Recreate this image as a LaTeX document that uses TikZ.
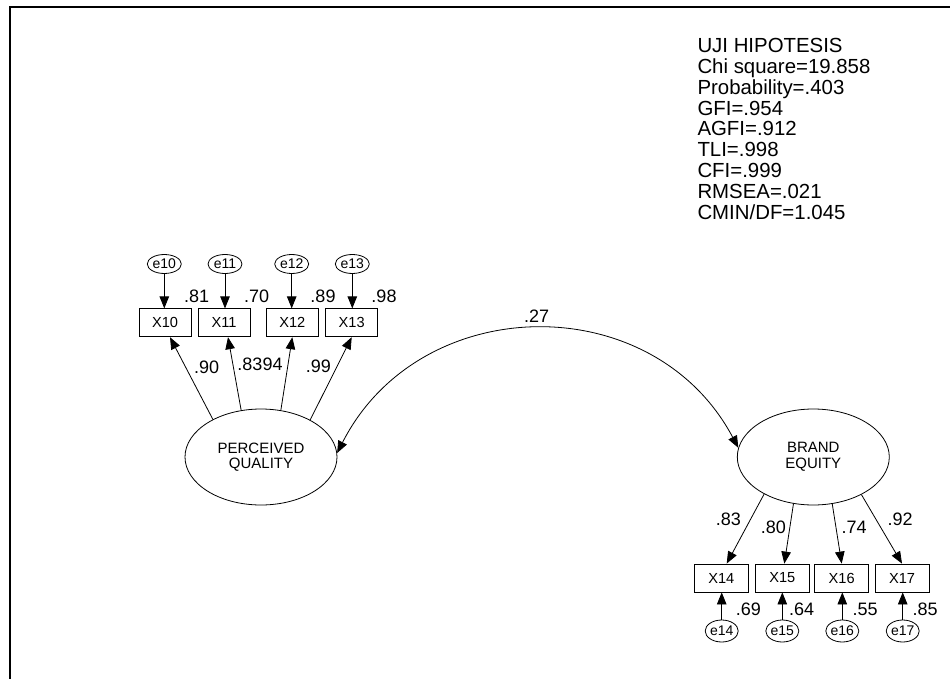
\documentclass[tikz,border=0pt]{standalone}
\usepackage{fontspec}
\setmainfont{Liberation Sans}
\usetikzlibrary{arrows.meta,shapes.geometric}
\begin{document}
\begin{tikzpicture}[x=1pt,y=-1pt,
  tip/.style={-{Triangle[length=12pt,width=9.5pt]}},
  link/.style={line width=0.8pt,tip},
  latent/.style={draw,ellipse,line width=0.8pt,minimum width=152pt,minimum height=96pt,inner sep=0pt,align=center,font=\fontsize{15}{15.5}\selectfont},
  err/.style={draw,ellipse,line width=0.8pt,minimum width=34pt,minimum height=19pt,inner sep=0pt,font=\fontsize{14}{14}\selectfont},
  errb/.style={err,minimum width=33pt,minimum height=22pt},
  obs/.style={draw,rectangle,line width=0.8pt,minimum width=52pt,minimum height=28pt,inner sep=0pt,font=\fontsize{14.6}{14.6}\selectfont},
  obsb/.style={obs,minimum width=54pt},
  num/.style={inner sep=0pt,font=\fontsize{18}{18}\selectfont},
  fitstat/.style={inner sep=0pt,align=left,anchor=north west,font=\fontsize{20.4}{20.8}\selectfont}
]
\useasboundingbox (0,0) rectangle (950,679);
% frame
\draw[line width=2pt] (10,679) -- (10,7) -- (950,7);

% fit statistics
\node[fitstat] (stats) at (697.3,38.3) {UJI HIPOTESIS\\Chi square=19.858\\Probability=.403\\GFI=.954\\AGFI=.912\\TLI=.998\\CFI=.999\\RMSEA=.021\\CMIN/DF=1.045};

% latent variables
\node[latent] (pq) at (261,457) {PERCEIVED\\QUALITY};
\node[latent] (be) at (813.3,457) {BRAND\\EQUITY};

% top indicators
\node[obs] (x10) at (165,322.8) {X10};
\node[obs] (x11) at (224,322.8) {X11};
\node[obs] (x12) at (292.3,322.8) {X12};
\node[obs] (x13) at (351.7,322.8) {X13};
\node[err] (e10) at (164.3,264) {e10};
\node[err] (e11) at (225,264) {e11};
\node[err] (e12) at (291.7,264) {e12};
\node[err] (e13) at (352.3,264) {e13};

% bottom indicators
\node[obsb] (x14) at (721.3,578) {X14};
\node[obsb] (x15) at (782.3,578) {X15};
\node[obsb] (x16) at (841.7,578) {X16};
\node[obsb] (x17) at (902,578) {X17};
\node[errb] (e14) at (721.7,631) {e14};
\node[errb] (e15) at (782.3,631) {e15};
\node[errb] (e16) at (842.3,631) {e16};
\node[errb] (e17) at (902.7,631) {e17};

% error arrows
\draw[link] (e10.south) -- (e10.south |- x10.north);
\draw[link] (e11.south) -- (e11.south |- x11.north);
\draw[link] (e12.south) -- (e12.south |- x12.north);
\draw[link] (e13.south) -- (e13.south |- x13.north);
\draw[link] (e14.north) -- (e14.north |- x14.south);
\draw[link] (e15.north) -- (e15.north |- x15.south);
\draw[link] (e16.north) -- (e16.north |- x16.south);
\draw[link] (e17.north) -- (e17.north |- x17.south);

% loadings
\draw[link] (pq.142.6) -- ([xshift=5pt]x10.south);
\draw[link] (pq.113.8) -- ([xshift=4pt]x11.south);
\draw[link] (pq.67.6) -- (x12.south);
\draw[link] (pq.37.6) -- (x13.south);
\draw[link] (be.217) -- ([xshift=5.4pt]x14.north);
\draw[link] (be.247) -- ([xshift=2pt]x15.north);
\draw[link] (be.292.4) -- (x16.north);
\draw[link] (be.322.4) -- (x17.north);

% covariance
\draw[line width=0.8pt,{Triangle[length=12pt,width=9.5pt]}-{Triangle[length=12pt,width=9.5pt]}]
  (pq.3) .. controls +(82.6,-162.2) and +(-85.4,-160.7) .. (be.173);

% numbers
\node[num] (n81) at (196.7,296.7) {.81};
\node[num] (n70) at (256.7,296.7) {.70};
\node[num] (n89) at (323,296.7) {.89};
\node[num] (n98) at (384,296.7) {.98};
\node[num] (n90) at (206.7,367.3) {.90};
\node[num] (n8394) at (260,364) {.8394};
\node[num] (n99) at (318.3,366) {.99};
\node[num] (n27) at (536.7,316) {.27};
\node[num] (n83) at (728.3,519.3) {.83};
\node[num] (n80) at (773.3,527.3) {.80};
\node[num] (n74) at (854,527.3) {.74};
\node[num] (n92) at (900,519.3) {.92};
\node[num] (n69) at (748.3,609.3) {.69};
\node[num] (n64) at (801.7,609.3) {.64};
\node[num] (n55) at (865,609.3) {.55};
\node[num] (n85) at (925,609.3) {.85};
\end{tikzpicture}
\end{document}
